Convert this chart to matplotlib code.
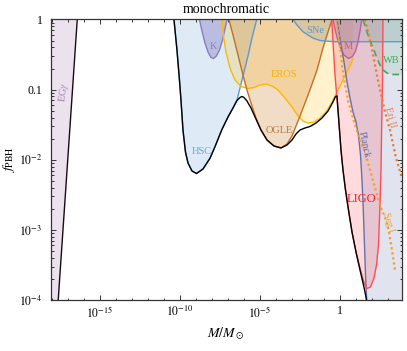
import numpy as np
import matplotlib
matplotlib.use('Agg')
import matplotlib.pyplot as plt
from matplotlib.ticker import FixedLocator, FuncFormatter, NullFormatter

plt.rcParams['font.family'] = ['Liberation Serif', 'DejaVu Serif']
plt.rcParams['mathtext.fontset'] = 'stix'

# ---------------- data: log10(M/Msun), log10(f_PBH) ----------------
egg_logM = [-17.59, -16.40]
egg_logf = [-4.0, 0.0]

hsc_logM = [-10.356, -10.169, -10.013, -9.919, -9.794, -9.638, -9.481, -9.231, -8.95,
            -8.544, -8.106, -7.794, -7.375, -6.981, -6.669, -6.419, -6.231, -5.981,
            -5.731, -5.481, -5.1875]
hsc_logf = [0.0, -0.435, -0.863, -1.148, -1.576, -1.889, -2.046, -2.160, -2.196,
            -2.132, -1.979, -1.814, -1.576, -1.390, -1.262, -1.148, -0.977, -0.749,
            -0.520, -0.264, 0.0]

k_logM = [-8.763, -8.606, -8.419, -8.231, -8.044, -7.888, -7.7, -7.513, -7.325, -7.169, -7.044]
k_logf = [0.0, -0.164, -0.335, -0.463, -0.542, -0.556, -0.520, -0.435, -0.292, -0.135, 0.0]

eros_logM = [-7.356, -7.263, -7.106, -6.856, -6.544, -6.169, -5.731, -5.356, -4.981,
             -4.606, -4.231, -3.856, -3.419, -2.981, -2.606, -2.294, -1.981, -1.606,
             -1.231, -0.856, -0.544, -0.231, 0.081, 0.394, 0.644, 0.831]
eros_logf = [0.0, -0.235, -0.463, -0.692, -0.863, -0.955, -0.984, -0.970, -0.934,
             -0.920, -0.948, -1.005, -1.119, -1.248, -1.376, -1.448, -1.476, -1.462,
             -1.405, -1.319, -1.205, -1.062, -0.920, -0.777, -0.663, -0.563]

ogle_logM = [-6.919, -6.669, -6.356, -6.044, -5.794, -5.544, -5.231, -4.919, -4.544,
             -4.106, -3.669, -3.294, -2.981, -2.731, -2.481, -2.169, -1.794, -1.419,
             -1.044, -0.731, -0.481]
ogle_logf = [0.0, -0.221, -0.506, -0.791, -1.005, -1.191, -1.405, -1.576, -1.718,
             -1.804, -1.832, -1.775, -1.661, -1.519, -1.376, -1.191, -0.963, -0.720,
             -0.406, -0.178, 0.0]

sne_logM = [-2.919, -2.669, -2.294, -1.981, -1.65, -1.231, -0.8125, -0.294, 4.0]
sne_logf = [0.0, -0.078, -0.174, -0.221, -0.268, -0.299, -0.309, -0.317, -0.317]

m_logM = [-0.419, -0.294, -0.1375, 0.05, 0.269, 0.55, 0.8, 0.9875, 1.144, 1.269, 1.375]
m_logf = [0.0, -0.135, -0.278, -0.406, -0.506, -0.556, -0.528, -0.449, -0.321, -0.164, 0.0]

ligo_logM = [-0.5, -0.3875, -0.294, -0.1875, -0.106, -0.0125, 0.081, 0.206, 0.3625,
             0.55, 0.769, 1.019, 1.269, 1.456, 1.581, 1.706, 1.925, 2.144, 2.3,
             2.425, 2.519, 2.581, 2.625, 2.675, 2.706]
ligo_logf = [0.0, -0.435, -0.791, -1.077, -1.291, -1.576, -1.861, -2.146, -2.431,
             -2.717, -3.030, -3.316, -3.544, -3.701, -3.786, -3.836, -3.815, -3.686,
             -3.501, -3.216, -2.645, -2.146, -1.505, -0.863, 0.0]

planck_logM = [-0.169, 0.081, 0.269, 0.4375, 0.644, 0.831, 1.019, 1.175, 1.3, 1.394,
               1.475, 1.55, 1.6125, 1.6875]
planck_logf = [0.0, -0.364, -0.606, -0.863, -1.119, -1.319, -1.462, -1.647, -1.932,
               -2.289, -2.717, -3.216, -3.643, -4.0]

wb_logM = [1.456, 1.706, 1.956, 2.206, 2.456, 2.706, 2.956, 3.269, 4.0]
wb_logf = [0.0, -0.178, -0.335, -0.478, -0.620, -0.720, -0.763, -0.784, -0.784]

eri_logM = [1.581, 2.0, 2.4125, 2.831, 3.144, 3.519, 3.894]
eri_logf = [0.0, -0.406, -0.891, -1.319, -1.576, -1.975, -2.260]

seg_logM = [-0.1875, 0.019, 0.225, 0.5375, 0.956, 1.269, 1.581, 2.1, 2.519, 2.769,
            3.0375, 3.25, 3.456]
seg_logf = [0.0, -0.411, -0.791, -1.172, -1.505, -1.718, -1.885, -2.313, -2.645,
            -2.788, -2.978, -3.263, -3.572]

# combined (envelope) bound
env_logM = [-10.356, -10.169, -10.013, -9.919, -9.794, -9.638, -9.481, -9.231, -8.95,
            -8.544, -8.106, -7.794, -7.375, -6.981, -6.669, -6.419, -6.231, -6.106,
            -5.981, -5.794, -5.544, -5.231, -4.919, -4.544, -4.106, -3.669, -3.294,
            -2.981, -2.731, -2.481, -2.169, -1.856, -1.481, -1.106, -0.731, -0.419,
            -0.2625, -0.169, -0.106, -0.0125, 0.081, 0.206, 0.3625, 0.55, 0.769,
            1.019, 1.269, 1.4875, 1.581, 1.675]
env_logf = [0.0, -0.435, -0.863, -1.148, -1.576, -1.889, -2.046, -2.160, -2.196,
            -2.132, -1.979, -1.814, -1.576, -1.390, -1.262, -1.155, -1.112, -1.098,
            -1.112, -1.162, -1.262, -1.419, -1.576, -1.718, -1.804, -1.832, -1.790,
            -1.718, -1.633, -1.576, -1.547, -1.526, -1.476, -1.405, -1.305, -1.176,
            -1.098, -1.091, -1.291, -1.576, -1.861, -2.146, -2.431, -2.717, -3.030,
            -3.316, -3.572, -3.786, -3.886, -4.0]

labels = ['EG$\\gamma$', 'HSC', 'K', 'EROS', 'OGLE', 'SNe', 'M', 'WB', 'LIGO',
          'Planck', 'Eri II', 'Seg I']
label_logM = [-17.23, -8.606, -7.919, -3.481, -3.794, -1.531, 0.519, 3.206, 1.331,
              1.519, 3.144, 3.019]
label_logf = [-1.034, -1.889, -0.378, -0.791, -1.576, -0.150, -0.378, -0.578, -2.56,
              -1.790, -1.390, -2.888]
label_rot = [82, 0, 0, 0, 0, 0, 0, 0, 0, -78, -75, -73]
label_colors = ['#a77bb6', '#6aa6d8', '#8a7cc2', '#f5b400', '#b8783a', '#5b9bcf',
                '#c0609a', '#3dab5b', '#ff1a1a', '#6670aa', '#f07b50', '#f0a030']
label_sizes = [7.5, 7.5, 7.5, 7.5, 7.5, 7.5, 7.5, 7.5, 9, 7, 7, 7]

xmin, xmax = 10 ** -18.06, 10 ** 3.875
ymin, ymax = 1e-4, 1.0

def L(a):
    return 10.0 ** np.asarray(a, dtype=float)

fig = plt.figure(figsize=(4.07, 3.51), dpi=100)
ax = fig.add_axes([50.7 / 407, 1 - 300 / 351, 351 / 407, 280.5 / 351])
ax.set_xscale('log')
ax.set_yscale('log')

# ---------------- fills ----------------
gx = L(egg_logM); gy = L(egg_logf)
ax.fill(np.r_[xmin, gx, xmin], np.r_[gy[0], gy, gy[-1]], color='#a77bb6', alpha=0.22, lw=0)
ax.fill(L(hsc_logM), L(hsc_logf), color='#5b9bd5', alpha=0.2, lw=0)
ax.fill(L(k_logM), L(k_logf), color='#7a68b8', alpha=0.35, lw=0)
ex = L(eros_logM); ey = L(eros_logf)
ax.fill(np.r_[ex, ex[-1]], np.r_[ey, ymax], color='#ffbf00', alpha=0.2, lw=0)
ax.fill(L(ogle_logM), L(ogle_logf), color='#c8741e', alpha=0.25, lw=0)
px = L(planck_logM); py = L(planck_logf)
ax.fill(np.r_[px, xmax, xmax], np.r_[py, ymin, ymax], color='#6a78b0', alpha=0.2, lw=0)
ax.fill(L(ligo_logM), L(ligo_logf), color='#ff4c58', alpha=0.2, lw=0)
ax.fill(L(m_logM), L(m_logf), color='#c0609a', alpha=0.25, lw=0)
sx = L(sne_logM); sy = L(sne_logf)
ax.fill(np.r_[sx, sx[-1]], np.r_[sy, ymax], color='#6f8f9f', alpha=0.18, lw=0)
wx = L(wb_logM); wy = L(wb_logf)
ax.fill(np.r_[wx, wx[-1]], np.r_[wy, ymax], color='#4aa860', alpha=0.12, lw=0)

# ---------------- lines ----------------
lw = 1.0
ax.plot(L(hsc_logM), L(hsc_logf), color='#5b9bd5', lw=lw)
ax.plot(L(k_logM), L(k_logf), color='#8a7cc2', lw=lw)
ax.plot(L(eros_logM), L(eros_logf), color='#ffb800', lw=lw)
ax.plot(L(ogle_logM), L(ogle_logf), color='#c46f22', lw=lw)
ax.plot(L(sne_logM), L(sne_logf), color='#5b9bcf', lw=lw)
ax.plot(L(m_logM), L(m_logf), color='#c0609a', lw=lw)
ax.plot(L(planck_logM), L(planck_logf), color='#6670aa', lw=lw)
ax.plot(L(ligo_logM), L(ligo_logf), color='#ff4c58', lw=lw)
ax.plot(L(wb_logM), L(wb_logf), color='#3dab5b', lw=1.2, dashes=(4, 2.5))
ax.plot(L(eri_logM), L(eri_logf), color='#f07b30', lw=1.6, dashes=(1, 1.3))
ax.plot(L(seg_logM), L(seg_logf), color='#f5a024', lw=1.6, dashes=(1, 1.3))

ax.plot(L(egg_logM), L(egg_logf), color='#1a0a18', lw=1.0)
ax.plot(L(env_logM), L(env_logf), color='black', lw=1.0)

for t, lm, lf, r, c, s in zip(labels, label_logM, label_logf, label_rot, label_colors, label_sizes):
    ax.text(10 ** lm, 10 ** lf, t, rotation=r, color=c, fontsize=s,
            ha='center', va='center', rotation_mode='anchor')

# ---------------- axes ----------------
ax.set_xlim(xmin, xmax)
ax.set_ylim(ymin, ymax)

xmaj = [1e-15, 1e-10, 1e-5, 1.0]
xmin_ticks = [10.0 ** k for k in range(-18, 4) if k not in (-15, -10, -5, 0)]
ax.xaxis.set_major_locator(FixedLocator(xmaj))
ax.xaxis.set_minor_locator(FixedLocator(xmin_ticks))
ax.xaxis.set_minor_formatter(NullFormatter())

def xfmt(v, pos):
    e = int(round(np.log10(v)))
    return '1' if e == 0 else '$10^{%d}$' % e

def yfmt(v, pos):
    e = int(round(np.log10(v)))
    if e == 0:
        return '1'
    if e == -1:
        return '0.1'
    return '$10^{%d}$' % e

ax.xaxis.set_major_formatter(FuncFormatter(xfmt))
ymaj = [1e-4, 1e-3, 1e-2, 1e-1, 1.0]
ymin_ticks = [m * 10.0 ** k for k in range(-4, 0) for m in range(2, 10)]
ax.yaxis.set_major_locator(FixedLocator(ymaj))
ax.yaxis.set_minor_locator(FixedLocator(ymin_ticks))
ax.yaxis.set_minor_formatter(NullFormatter())
ax.yaxis.set_major_formatter(FuncFormatter(yfmt))

ax.tick_params(which='both', direction='in', top=True, right=True, colors='#333333',
               labelcolor='black', labelsize=8.5, width=0.7)
ax.tick_params(which='major', length=3.5)
ax.tick_params(which='minor', length=1.8)
ax.tick_params(axis='y', which='major', pad=6)
for sp in ax.spines.values():
    sp.set_color('#333333')
    sp.set_linewidth(0.9)

ax.set_xlabel(r'$M/M_\odot$', fontsize=10)
ax.set_ylabel(r'$f_{\rm PBH}$', fontsize=10)
ax.xaxis.set_label_coords(0.5, -0.09)
ax.yaxis.set_label_coords(-0.096, 0.5)
ax.set_title('monochromatic', fontsize=10, pad=5)

fig.savefig('out.png', dpi=100)
